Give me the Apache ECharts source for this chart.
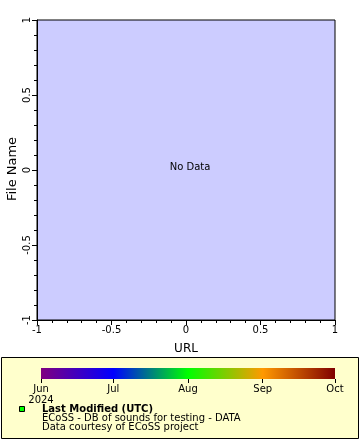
<!DOCTYPE html>
<html><head><meta charset="utf-8">
<script src="https://cdn.jsdelivr.net/npm/echarts@6/dist/echarts.min.js"></script>
<style>html,body{margin:0;padding:0;background:#fff}#c{width:360px;height:440px}</style>
</head><body><div id="c"></div>
<script>
// Data
const xRange = [-1, 1];
const yRange = [-1, 1];
const xName = 'URL';
const yName = 'File Name';
const plotData = []; // no data
const colorbarLabels = ['Jun\n2024', 'Jul', 'Aug', 'Sep', 'Oct'];
const colorbarDays = [0, 30, 61, 92, 122];
const colorbarColors = ['#800080', '#0000ff', '#00ff00', '#ff9900', '#800000'];
const legendTitle = 'Last Modified (UTC)';
const legendLines = ['ECoSS - DB of sounds for testing - DATA', 'Data courtesy of ECoSS project'];

const FONT = 'DejaVu Sans';
const chart = echarts.init(document.getElementById('c'), null, {renderer: 'canvas'});
const total = colorbarDays[colorbarDays.length - 1];
const stops = colorbarDays.map((d, i) => ({offset: d / total, color: colorbarColors[i]}));

chart.setOption({
  animation: false,
  textStyle: {fontFamily: FONT},
  graphic: [
    {type: 'rect', z: 0, shape: {x: 1.5, y: 357.5, width: 357, height: 81},
     style: {fill: '#ffffcc', stroke: '#000', lineWidth: 1}},
    {type: 'rect', z: 5, shape: {x: 19.5, y: 406.5, width: 5, height: 5},
     style: {fill: '#00ff00', stroke: '#000', lineWidth: 1}},
    {type: 'text', z: 5, x: 42, y: 409, style: {text: legendTitle, fontFamily: FONT, fontSize: 10, fontWeight: 'bold', fill: '#000', verticalAlign: 'middle'}},
    {type: 'text', z: 5, x: 42, y: 418, style: {text: legendLines[0], fontFamily: FONT, fontSize: 10, fill: '#000', verticalAlign: 'middle'}},
    {type: 'text', z: 5, x: 42, y: 427, style: {text: legendLines[1], fontFamily: FONT, fontSize: 10, fill: '#000', verticalAlign: 'middle'}},
    {type: 'text', z: 5, x: 190, y: 167, style: {text: 'No Data', fontFamily: FONT, fontSize: 10, fill: '#000', align: 'center', verticalAlign: 'middle'}},
    {type: 'text', z: 5, x: 13, y: 169, rotation: Math.PI / 2,
     style: {text: yName, fontFamily: FONT, fontSize: 13, fill: '#000', align: 'center', verticalAlign: 'middle'}}
  ],
  grid: [
    {left: 37, top: 20, width: 298, height: 300, show: true, backgroundColor: '#ccccff', borderColor: '#000', borderWidth: 1,
     containLabel: false, outerBoundsMode: 'none'},
    {left: 41, top: 368, width: 294, height: 11, show: false, containLabel: false, outerBoundsMode: 'none'}
  ],
  xAxis: [
    {gridIndex: 0, type: 'value', min: xRange[0], max: xRange[1], interval: 0.5,
     name: xName, nameLocation: 'middle', nameGap: 23,
     nameTextStyle: {fontFamily: FONT, fontSize: 12, color: '#000'},
     axisLine: {show: true, onZero: false, lineStyle: {color: '#000'}},
     axisTick: {show: true, inside: false, length: 5, lineStyle: {color: '#000'}},
     minorTick: {show: true, splitNumber: 5, length: 3, lineStyle: {color: '#000'}},
     splitLine: {show: false},
     axisLabel: {fontFamily: FONT, fontSize: 10, color: '#000', margin: 5, formatter: v => String(v)}},
    {gridIndex: 1, type: 'value', min: 0, max: total,
     axisLine: {show: false},
     axisTick: {show: true, inside: false, length: 4, customValues: colorbarDays, lineStyle: {color: '#000'}},
     splitLine: {show: false},
     axisLabel: {fontFamily: FONT, fontSize: 10, color: '#000', margin: 5, lineHeight: 11, customValues: colorbarDays,
       formatter: v => colorbarLabels[colorbarDays.indexOf(v)] || ''}}
  ],
  yAxis: [
    {gridIndex: 0, type: 'value', min: yRange[0], max: yRange[1], interval: 0.5,
     axisLine: {show: true, onZero: false, lineStyle: {color: '#000'}},
     axisTick: {show: true, inside: false, length: 5, lineStyle: {color: '#000'}},
     minorTick: {show: true, splitNumber: 5, length: 3, lineStyle: {color: '#000'}},
     splitLine: {show: false},
     axisLabel: {fontFamily: FONT, fontSize: 10, color: '#000', rotate: 90, margin: 5, formatter: v => String(v)}},
    {gridIndex: 1, type: 'value', min: 0, max: 1, show: false}
  ],
  series: [
    {type: 'scatter', xAxisIndex: 0, yAxisIndex: 0, data: plotData},
    {type: 'custom', xAxisIndex: 1, yAxisIndex: 1, data: [[colorbarDays[0], total]],
     renderItem: (params, api) => {
       const p0 = api.coord([api.value(0), 1]);
       const p1 = api.coord([api.value(1), 0]);
       return {type: 'rect', shape: {x: p0[0], y: p0[1], width: p1[0] - p0[0], height: p1[1] - p0[1]},
         style: {fill: new echarts.graphic.LinearGradient(0, 0, 1, 0, stops)}};
     }}
  ]
});
</script></body></html>
